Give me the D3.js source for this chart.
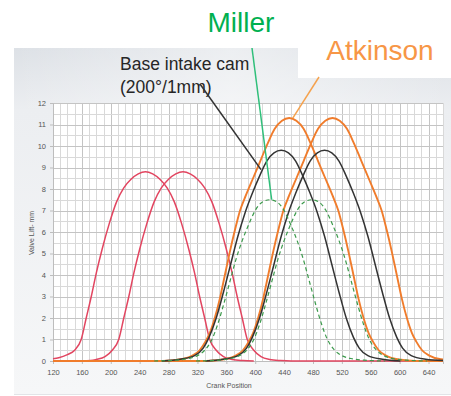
<!DOCTYPE html>
<html>
<head>
<meta charset="utf-8">
<script src="https://cdn.jsdelivr.net/npm/d3@7"></script>
<style>
  html, body { margin: 0; padding: 0; background: #ffffff; }
  svg { display: block; font-family: "Liberation Sans", Arial, sans-serif; }
</style>
</head>
<body>
<svg id="chart" width="451" height="396"></svg>
<script>
// Valve lift (mm) against crank position (deg), as [crank, lift] pairs.
const exhaustA = [[120,0.1],[128,0.15],[140,0.3],[150,0.5],[159,1.0],[166,2.0],[173,3.0],[180,4.1],[188,5.2],[198,6.4],[208,7.4],[218,8.05],[228,8.45],[238,8.7],[248,8.8],[258,8.7],[268,8.45],[278,8.05],[288,7.4],[298,6.4],[308,5.2],[316,4.1],[323,3.0],[330,2.0],[337,1.0],[346,0.5],[356,0.2],[368,0.07],[383,0.02],[398,0]];
const exhaustB = [[160,0],[172,0.02],[180,0.07],[192,0.2],[202,0.5],[211,1.0],[218,2.0],[225,3.0],[232,4.1],[240,5.2],[250,6.4],[260,7.4],[270,8.05],[280,8.45],[290,8.7],[300,8.8],[310,8.7],[320,8.45],[330,8.05],[340,7.4],[350,6.4],[360,5.2],[368,4.1],[375,3.0],[382,2.0],[389,1.0],[398,0.5],[408,0.2],[420,0.07],[435,0.02],[450,0],[660,0]];
const baseCamA = [[271,0],[296,0.08],[316,0.25],[328,0.6],[336,1.1],[346,2.0],[356,3.2],[366,4.5],[376,5.8],[386,6.9],[396,7.8],[406,8.6],[416,9.3],[426,9.68],[436,9.8],[446,9.68],[456,9.3],[466,8.6],[476,7.8],[486,6.9],[496,5.8],[506,4.5],[516,3.2],[526,2.0],[536,1.1],[544,0.6],[556,0.25],[576,0.08],[601,0]];
const baseCamB = [[331,0],[356,0.08],[376,0.25],[388,0.6],[396,1.1],[406,2.0],[416,3.2],[426,4.5],[436,5.8],[446,6.9],[456,7.8],[466,8.6],[476,9.3],[486,9.68],[496,9.8],[506,9.68],[516,9.3],[526,8.6],[536,7.8],[546,6.9],[556,5.8],[566,4.5],[576,3.2],[586,2.0],[596,1.1],[604,0.6],[616,0.25],[636,0.08],[660,0.02]];
const atkinsonA = [[120,0],[272,0],[297,0.08],[313,0.25],[323,0.5],[331,0.9],[337,1.3],[344,2.0],[351,2.9],[358,4.0],[365,5.1],[372,6.1],[379,7.0],[387,7.7],[397,8.5],[407,9.3],[417,10.1],[427,10.8],[437,11.17],[447,11.3],[457,11.17],[467,10.8],[477,10.1],[487,9.3],[497,8.5],[507,7.7],[515,7.0],[522,6.1],[529,5.1],[536,4.0],[543,2.9],[550,2.0],[557,1.3],[563,0.9],[571,0.5],[581,0.25],[597,0.08],[622,0],[660,0]];
const atkinsonB = [[120,0],[332,0],[357,0.08],[373,0.25],[383,0.5],[391,0.9],[397,1.3],[404,2.0],[411,2.9],[418,4.0],[425,5.1],[432,6.1],[439,7.0],[447,7.7],[457,8.5],[467,9.3],[477,10.1],[487,10.8],[497,11.17],[507,11.3],[517,11.17],[527,10.8],[537,10.1],[547,9.3],[557,8.5],[567,7.7],[575,7.0],[582,6.1],[589,5.1],[596,4.0],[603,2.9],[610,2.0],[617,1.3],[623,0.9],[631,0.5],[641,0.25],[657,0.08],[660,0.07]];
const millerA = [[260,0],[285,0.03],[305,0.1],[320,0.25],[330,0.5],[340,1.0],[348,1.7],[356,2.6],[365,3.7],[374,4.8],[382,5.6],[391,6.35],[400,7.0],[410,7.4],[420,7.5],[430,7.4],[440,7.0],[449,6.35],[458,5.6],[466,4.8],[475,3.7],[484,2.6],[492,1.7],[500,1.0],[510,0.5],[520,0.25],[535,0.1],[555,0.03],[580,0]];
const millerB = [[318,0],[343,0.03],[363,0.1],[378,0.25],[388,0.5],[398,1.0],[406,1.7],[414,2.6],[423,3.7],[432,4.8],[440,5.6],[449,6.35],[458,7.0],[468,7.4],[478,7.5],[488,7.4],[498,7.0],[507,6.35],[516,5.6],[524,4.8],[533,3.7],[542,2.6],[550,1.7],[558,1.0],[568,0.5],[578,0.25],[593,0.1],[613,0.03],[638,0]];

const xTicks = [120,160,200,240,280,320,360,400,440,480,520,560,600,640];
const yTicks = [0,1,2,3,4,5,6,7,8,9,10,11,12];
const xDomain = [120, 660];
const yDomain = [0, 12];

const svg = d3.select("#chart");
const x = d3.scaleLinear().domain(xDomain).range([53, 443]);
const y = d3.scaleLinear().domain(yDomain).range([361, 103]);

// Slide backdrop behind the chart picture
const defs = svg.append("defs");
const bg = defs.append("linearGradient").attr("id", "panelBg").attr("x1", 0).attr("y1", 0).attr("x2", 0).attr("y2", 1);
bg.append("stop").attr("offset", "0").attr("stop-color", "#dde1e6");
bg.append("stop").attr("offset", "0.18").attr("stop-color", "#eceef1");
bg.append("stop").attr("offset", "1").attr("stop-color", "#f6f7f8");
const bgH = defs.append("linearGradient").attr("id", "panelSheen").attr("x1", 0).attr("y1", 0).attr("x2", 1).attr("y2", 0);
bgH.append("stop").attr("offset", "0").attr("stop-color", "#ffffff").attr("stop-opacity", 0);
bgH.append("stop").attr("offset", "0.5").attr("stop-color", "#ffffff").attr("stop-opacity", 0.45);
bgH.append("stop").attr("offset", "1").attr("stop-color", "#ffffff").attr("stop-opacity", 0);

svg.append("rect").attr("x", 14).attr("y", 48).attr("width", 437).attr("height", 346).attr("fill", "url(#panelBg)");
svg.append("rect").attr("x", 14).attr("y", 48).attr("width", 437).attr("height", 60).attr("fill", "url(#panelSheen)");
svg.append("rect").attr("x", 298).attr("y", 0).attr("width", 153).attr("height", 78).attr("fill", "#ffffff");
svg.append("line").attr("x1", 14).attr("x2", 451).attr("y1", 394.5).attr("y2", 394.5).attr("stroke", "#e2e4e7");

// Plot area and grid
svg.append("rect").attr("x", x(xDomain[0])).attr("y", y(yDomain[1]))
  .attr("width", x(xDomain[1]) - x(xDomain[0])).attr("height", y(yDomain[0]) - y(yDomain[1]))
  .attr("fill", "#ffffff");

const grid = svg.append("g");
grid.selectAll("line.v").data(d3.range(xDomain[0], xDomain[1] + 1, 10)).join("line")
  .attr("x1", d => Math.round(x(d)) + 0.5).attr("x2", d => Math.round(x(d)) + 0.5)
  .attr("y1", y(yDomain[0])).attr("y2", y(yDomain[1]))
  .attr("stroke", d => (d - 120) % 40 === 0 ? "#c4c4c4" : "#d9d9d9").attr("stroke-width", 1);
grid.selectAll("line.h").data(d3.range(0, 12.01, 0.5)).join("line")
  .attr("y1", d => Math.round(y(d)) + 0.5).attr("y2", d => Math.round(y(d)) + 0.5)
  .attr("x1", x(xDomain[0])).attr("x2", x(xDomain[1]))
  .attr("stroke", d => d % 1 === 0 ? "#c4c4c4" : "#d9d9d9").attr("stroke-width", 1);

// Axes
const xAxis = svg.append("g").attr("transform", `translate(0,${y(0)})`)
  .call(d3.axisBottom(x).tickValues(xTicks).tickSize(3).tickPadding(6));
const yAxis = svg.append("g").attr("transform", `translate(${x(xDomain[0])},0)`)
  .call(d3.axisLeft(y).tickValues(yTicks).tickSize(3).tickPadding(4));
[xAxis, yAxis].forEach(a => {
  a.select(".domain").attr("stroke", "#bdbdbd");
  a.selectAll(".tick line").attr("stroke", "#bdbdbd");
  a.selectAll(".tick text").attr("fill", "#555").attr("font-size", 7.5)
    .attr("font-family", "'Liberation Sans', Arial, sans-serif");
});

svg.append("text").attr("x", 229).attr("y", 388).attr("text-anchor", "middle")
  .attr("font-size", 7).attr("fill", "#555").text("Crank Position");
svg.append("text").attr("transform", "translate(34,233) rotate(-90)").attr("text-anchor", "middle")
  .attr("font-size", 7).attr("fill", "#555").text("Valve Lift- mm");

// Lift curves
const line = d3.line().x(d => x(d[0])).y(d => y(d[1])).curve(d3.curveMonotoneX);
const curves = [
  { data: exhaustA, color: "#e24560", width: 1.5, dash: null },
  { data: exhaustB, color: "#e24560", width: 1.5, dash: null },
  { data: atkinsonA, color: "#f07c2c", width: 1.9, dash: null },
  { data: atkinsonB, color: "#f07c2c", width: 1.9, dash: null },
  { data: baseCamA, color: "#333333", width: 1.5, dash: null },
  { data: baseCamB, color: "#333333", width: 1.5, dash: null },
  { data: millerA, color: "#3c9a4c", width: 1.2, dash: "4,3" },
  { data: millerB, color: "#3c9a4c", width: 1.2, dash: "4,3" }
];
svg.append("g").selectAll("path").data(curves).join("path")
  .attr("d", d => line(d.data)).attr("fill", "none")
  .attr("stroke", d => d.color).attr("stroke-width", d => d.width)
  .attr("stroke-dasharray", d => d.dash);

// Callouts
svg.append("text").attr("x", 120).attr("y", 70).attr("font-size", 17.5).attr("fill", "#262626").text("Base intake cam");
svg.append("text").attr("x", 120).attr("y", 93).attr("font-size", 17.5).attr("fill", "#262626").text("(200°/1mm)");
svg.append("text").attr("x", 241).attr("y", 32).attr("text-anchor", "middle").attr("font-size", 28).attr("fill", "#00b050").text("Miller");
svg.append("text").attr("x", 380).attr("y", 60).attr("text-anchor", "middle").attr("font-size", 28).attr("fill", "#f79646").text("Atkinson");

svg.append("line").attr("x1", 252).attr("y1", 48).attr("x2", x(420) + 2).attr("y2", y(7.5))
  .attr("stroke", "#2fbf7a").attr("stroke-width", 1.5);
svg.append("line").attr("x1", 319).attr("y1", 77).attr("x2", x(452)).attr("y2", y(11.3))
  .attr("stroke", "#f5a24e").attr("stroke-width", 1.5);
svg.append("line").attr("x1", 200).attr("y1", 84).attr("x2", x(408)).attr("y2", y(8.9))
  .attr("stroke", "#333333").attr("stroke-width", 1.5);
</script>
</body>
</html>
